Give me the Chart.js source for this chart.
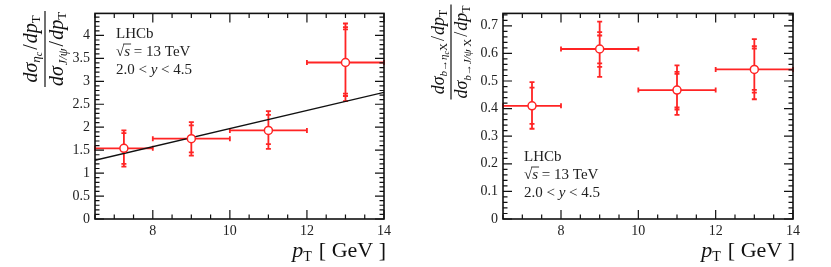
<!DOCTYPE html>
<html>
<head>
<meta charset="utf-8">
<script src="https://cdn.jsdelivr.net/npm/chart.js@4.4.1/dist/chart.umd.min.js"></script>
<style>
html, body { margin: 0; padding: 0; background: #fff; }
#wrap { position: relative; width: 831px; height: 267px; }
canvas { position: absolute; top: 0; }
#c1 { left: 0; }
#c2 { left: 415px; }
</style>
</head>
<body>
<div id="wrap">
  <canvas id="c1" width="415" height="267"></canvas>
  <canvas id="c2" width="416" height="267"></canvas>
</div>
<script>
// pT bins (GeV)
const binCentres = [7.25, 9, 11, 13];
const binLow = [6.5, 8, 10, 12];
const binHigh = [8, 10, 12, 14];
const xTicks = [8, 10, 12, 14];

// left: prompt eta_c / J/psi ratio, with the error-bar tick levels
const promptRatio = [1.54, 1.75, 1.93, 3.41];
const promptUp = [[1.87, 1.93], [2.04, 2.11], [2.27, 2.35], [4.13, 4.18, 4.26]];
const promptDown = [[1.20, 1.14], [1.45, 1.38], [1.63, 1.53], [2.73, 2.68, 2.57]];
const fitPt = [6.5, 14];
const fitRatio = [1.28, 2.76];
const promptYTicks = [0, 0.5, 1, 1.5, 2, 2.5, 3, 3.5, 4];

// right: eta_c from b / J/psi from b
const fromBRatio = [0.41, 0.616, 0.467, 0.542];
const fromBUp = [[0.476, 0.496], [0.665, 0.677, 0.715], [0.526, 0.533, 0.557], [0.617, 0.626, 0.652]];
const fromBDown = [[0.345, 0.327], [0.564, 0.551, 0.515], [0.404, 0.396, 0.377], [0.468, 0.458, 0.434]];
const fromBYTicks = [0, 0.1, 0.2, 0.3, 0.4, 0.5, 0.6, 0.7];

const RED = '#ff2424';
const SERIF = '"Liberation Serif", "DejaVu Serif", serif';
const rom = s => s + 'px ' + SERIF;
const ita = s => 'italic ' + s + 'px ' + SERIF;

function runsWidth(ctx, runs) {
    let w = 0;
    runs.forEach(r => { ctx.font = r.f; w += ctx.measureText(r.t).width + (r.sp || 0); });
    return w;
}
function drawRuns(ctx, x, y, runs) {
    runs.forEach(r => {
        ctx.font = r.f;
        ctx.fillText(r.t, x, y + (r.dy || 0));
        x += ctx.measureText(r.t).width + (r.sp || 0);
    });
    return x;
}

// rotated fraction used as y title
function drawFraction(ctx, barX, midY, num, den, numOff, denOff) {
    ctx.save();
    ctx.translate(barX, midY);
    ctx.rotate(-Math.PI / 2);
    ctx.fillStyle = '#111';
    ctx.textBaseline = 'alphabetic';
    const wn = runsWidth(ctx, num), wd = runsWidth(ctx, den);
    const L = Math.max(wn, wd) + 2;
    drawRuns(ctx, -wn / 2, numOff, num);
    drawRuns(ctx, -wd / 2, denOff, den);
    ctx.strokeStyle = '#111';
    ctx.lineWidth = 1.2;
    ctx.beginPath();
    ctx.moveTo(-L / 2, 0);
    ctx.lineTo(L / 2, 0);
    ctx.stroke();
    ctx.restore();
}

function drawLabelBlock(ctx, x, y0) {
    ctx.fillStyle = '#222';
    ctx.textBaseline = 'alphabetic';
    ctx.font = rom(15);
    ctx.fillText('LHCb', x, y0);
    // sqrt(s) = 13 TeV
    const y1 = y0 + 18;
    ctx.font = rom(15);
    ctx.fillText('\u221A', x, y1);
    const rw = ctx.measureText('\u221A').width;
    ctx.font = ita(15);
    ctx.fillText('s', x + rw, y1);
    const sw = ctx.measureText('s').width;
    ctx.strokeStyle = '#222';
    ctx.lineWidth = 0.9;
    ctx.beginPath();
    ctx.moveTo(x + rw - 1, y1 - 12);
    ctx.lineTo(x + rw + sw + 1, y1 - 12);
    ctx.stroke();
    drawRuns(ctx, x + rw + sw, y1, [{ t: ' = 13 TeV', f: rom(15) }]);
    const y2 = y1 + 18;
    drawRuns(ctx, x, y2, [
        { t: '2.0 < ', f: rom(15) },
        { t: 'y', f: ita(15) },
        { t: ' < 4.5', f: rom(15) }
    ]);
}

function makePanel(id, cfg) {
    const errorBars = {
        id: 'errorBars',
        beforeDatasetsDraw(chart) {
            const ctx = chart.ctx, xs = chart.scales.x, ys = chart.scales.y;
            ctx.save();
            ctx.strokeStyle = RED;
            ctx.lineWidth = 1.8;
            ctx.lineCap = 'butt';
            cfg.values.forEach((v, i) => {
                const py = ys.getPixelForValue(v);
                const px = xs.getPixelForValue(binCentres[i]);
                const xl = xs.getPixelForValue(binLow[i]);
                const xh = xs.getPixelForValue(binHigh[i]);
                ctx.beginPath();
                ctx.moveTo(xl, py); ctx.lineTo(xh, py);
                ctx.moveTo(xl, py - 2.5); ctx.lineTo(xl, py + 2.5);
                ctx.moveTo(xh, py - 2.5); ctx.lineTo(xh, py + 2.5);
                const top = Math.max(...cfg.up[i]);
                const bot = Math.min(...cfg.down[i]);
                ctx.moveTo(px, ys.getPixelForValue(top));
                ctx.lineTo(px, ys.getPixelForValue(bot));
                cfg.up[i].concat(cfg.down[i]).forEach(e => {
                    const ey = ys.getPixelForValue(e);
                    ctx.moveTo(px - 2.5, ey); ctx.lineTo(px + 2.5, ey);
                });
                ctx.stroke();
            });
            ctx.restore();
        },
        afterDraw(chart) {
            const ctx = chart.ctx, a = chart.chartArea;
            const xs = chart.scales.x, ys = chart.scales.y;
            ctx.save();
            ctx.strokeStyle = '#111';
            // inward ticks, mirrored on all four sides
            ctx.lineWidth = 1.2;
            ctx.beginPath();
            for (let v = 6.5; v <= 14.001; v += 0.5) {
                const px = xs.getPixelForValue(v);
                const len = xTicks.includes(v) ? 9 : 4.5;
                ctx.moveTo(px, a.bottom); ctx.lineTo(px, a.bottom - len);
                ctx.moveTo(px, a.top); ctx.lineTo(px, a.top + len);
            }
            for (let k = 0; ; k++) {
                const v = k * cfg.minorY;
                if (v > cfg.yMax + 1e-9) break;
                const py = ys.getPixelForValue(v);
                const len = (k % 5 === 0) ? 9 : 4.5;
                ctx.moveTo(a.left, py); ctx.lineTo(a.left + len, py);
                ctx.moveTo(a.right, py); ctx.lineTo(a.right - len, py);
            }
            ctx.stroke();
            ctx.lineWidth = 1.6;
            ctx.strokeRect(a.left, a.top, a.right - a.left, a.bottom - a.top);

            // x title
            ctx.fillStyle = '#111';
            const xt = [
                { t: 'p', f: ita(22) },
                { t: 'T', f: rom(14), dy: 4, sp: 7 },
                { t: '[ GeV ]', f: rom(22) }
            ];
            const w = runsWidth(ctx, xt);
            drawRuns(ctx, a.right + 2 - w, 257, xt);

            drawFraction(ctx, cfg.barX, cfg.midY, cfg.num, cfg.den, cfg.numOff, cfg.denOff);
            drawLabelBlock(ctx, a.left + cfg.textDx, cfg.textY);
            ctx.restore();
        }
    };

    const datasets = [{
        type: 'scatter',
        data: binCentres.map((x, i) => ({ x: x, y: cfg.values[i] })),
        pointRadius: 4,
        pointBackgroundColor: '#fff',
        pointBorderColor: RED,
        pointBorderWidth: 1.5,
        order: 0
    }];
    if (cfg.fit) {
        datasets.push({
            type: 'line',
            data: cfg.fit[0].map((x, i) => ({ x: x, y: cfg.fit[1][i] })),
            borderColor: '#111',
            borderWidth: 1.4,
            pointRadius: 0,
            order: 1
        });
    }

    new Chart(document.getElementById(id).getContext('2d'), {
        type: 'scatter',
        data: { datasets: datasets },
        options: {
            responsive: false,
            animation: false,
            events: [],
            layout: { padding: { top: 10, right: cfg.padRight, left: 0, bottom: 0 } },
            plugins: { legend: { display: false }, tooltip: { enabled: false } },
            scales: {
                x: {
                    type: 'linear', min: 6.5, max: 14,
                    grid: { display: false, drawTicks: false }, border: { display: false },
                    afterFit: s => { s.height = 48; },
                    afterBuildTicks: s => { s.ticks = xTicks.map(v => ({ value: v })); },
                    ticks: { padding: 4, maxRotation: 0, autoSkip: false, color: '#222',
                             font: { family: SERIF, size: 14 } }
                },
                y: {
                    type: 'linear', min: 0, max: cfg.yMax,
                    grid: { display: false, drawTicks: false }, border: { display: false },
                    afterFit: s => { s.width = cfg.yWidth; },
                    afterBuildTicks: s => { s.ticks = cfg.yTicks.map(v => ({ value: v })); },
                    ticks: { padding: 5, autoSkip: false, color: '#222',
                             font: { family: SERIF, size: 14 },
                             callback: v => String(+v.toFixed(2)) }
                }
            }
        },
        plugins: [errorBars]
    });
}

makePanel('c1', {
    values: promptRatio, up: promptUp, down: promptDown,
    fit: [fitPt, fitRatio],
    yMax: 4.48, minorY: 0.1, yTicks: promptYTicks,
    yWidth: 95, padRight: 31,
    barX: 45, midY: 49, numOff: -8, denOff: 18,
    num: [
        { t: 'd\u03C3', f: ita(20) },
        { t: '\u03B7', f: ita(13), dy: 3 },
        { t: 'c', f: ita(10), dy: 5, sp: 2 },
        { t: '/', f: rom(20), sp: 1 },
        { t: 'dp', f: ita(20) },
        { t: 'T', f: rom(13), dy: 3 }
    ],
    den: [
        { t: 'd\u03C3', f: ita(20), sp: 1 },
        { t: 'J/\u03C8', f: ita(12.5), dy: 4, sp: 2 },
        { t: '/', f: rom(20), sp: 1 },
        { t: 'dp', f: ita(20) },
        { t: 'T', f: rom(13), dy: 3 }
    ],
    textDx: 21, textY: 38
});

makePanel('c2', {
    values: fromBRatio, up: fromBUp, down: fromBDown,
    fit: null,
    yMax: 0.745, minorY: 0.02, yTicks: fromBYTicks,
    yWidth: 88, padRight: 38,
    barX: 36, midY: 52, numOff: -7, denOff: 16,
    num: [
        { t: 'd\u03C3', f: ita(18) },
        { t: 'b\u2192\u03B7', f: ita(11), dy: 3 },
        { t: 'c', f: ita(8), dy: 5 },
        { t: 'X', f: rom(11), dy: 3, sp: 2 },
        { t: '/', f: rom(18), sp: 1 },
        { t: 'dp', f: ita(18) },
        { t: 'T', f: rom(12), dy: 3 }
    ],
    den: [
        { t: 'd\u03C3', f: ita(18) },
        { t: 'b\u2192J/\u03C8 ', f: ita(11), dy: 4 },
        { t: 'X', f: rom(11), dy: 4, sp: 2 },
        { t: '/', f: rom(18), sp: 1 },
        { t: 'dp', f: ita(18) },
        { t: 'T', f: rom(12), dy: 3 }
    ],
    textDx: 21, textY: 161
});
</script>
</body>
</html>
